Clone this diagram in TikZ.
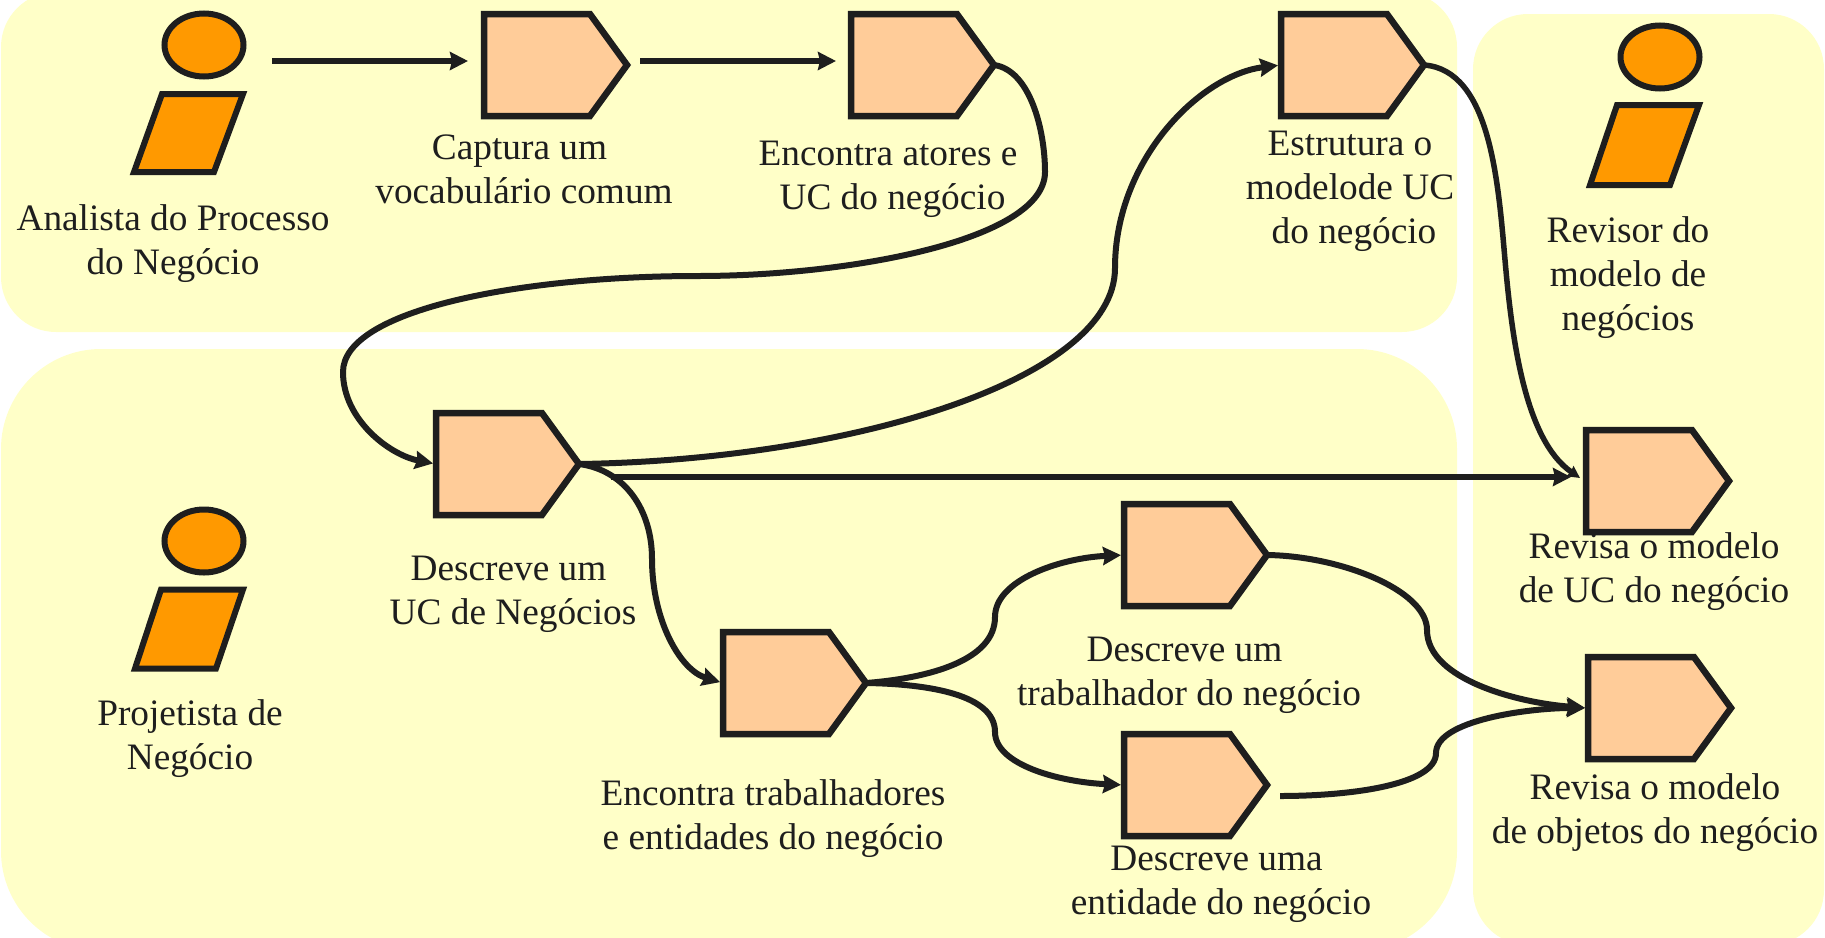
\documentclass[tikz,border=0pt]{standalone}
\usepackage{fontspec}
\setmainfont{Liberation Serif}
\usetikzlibrary{shapes.symbols,shapes.geometric,arrows.meta}
\definecolor{panelc}{HTML}{FFFFC8}
\definecolor{pentc}{HTML}{FFCC99}
\definecolor{actc}{HTML}{FF9900}
\definecolor{inkc}{HTML}{1E1E1E}
\tikzset{
  panel/.style={fill=panelc,draw=none},
  activity/.style={shape=signal,signal to=east,signal pointer angle=108,draw=inkc,fill=pentc,line width=6.5pt,
    minimum width=143pt,minimum height=102pt,inner sep=0pt,outer sep=0pt,anchor=north west},
  head/.style={shape=ellipse,draw=inkc,fill=actc,line width=6pt,minimum width=79pt,minimum height=63pt,inner sep=0pt,outer sep=0pt},
  body/.style={draw=inkc,fill=actc,line width=6pt,miter limit=10},
  lab/.style={align=center,text=inkc,font=\fontsize{37.3}{44}\selectfont,inner sep=0pt},
  flow/.style={draw=inkc,line width=6pt,-{Stealth[length=18pt,width=18pt,inset=2pt]}},
  flows/.style={draw=inkc,line width=5.5pt,-{Stealth[length=12pt,width=12pt,inset=1pt]}},
  flowb/.style={flow,shorten >=3pt}
}
\begin{document}
\begin{tikzpicture}[x=1pt,y=-1pt]
\useasboundingbox (0,0) rectangle (1825,937);
% panels
\path[panel] (1,-8) [rounded corners=55pt] rectangle (1457,332);
\path[panel] (1,349) [rounded corners=100pt] rectangle (1457,951);
\path[panel] (1473,14) [rounded corners=55pt] rectangle (1824,945);
% actors
\node[head] (a1) at (204,45) {};
\path[body] (162,94) -- (243,94) -- (214,172) -- (134,172) -- cycle;
\node[head] (a2) at (204,541) {};
\path[body] (161,589.5) -- (243,589.5) -- (216,668.5) -- (135,668.5) -- cycle;
\node[head] (a3) at (1660,57) {};
\path[body] (1617,105) -- (1699,105) -- (1670,185) -- (1590,185) -- cycle;
% activities
\node[activity] (p1) at (484,14) {};
\node[activity] (p2) at (851,14) {};
\node[activity] (p3) at (1281,14) {};
\node[activity] (p4) at (436,413) {};
\node[activity] (p5) at (723,632) {};
\node[activity] (p6) at (1124,504) {};
\node[activity] (p7) at (1124,734) {};
\node[activity] (p8) at (1586,430) {};
\node[activity] (p9) at (1588,657) {};
% free ends
\coordinate (s1) at (272,61);
\coordinate (t1) at (468,61);
\coordinate (s2) at (640,61);
\coordinate (t2) at (836,61);
\coordinate (s6) at (611,477);
\coordinate (t5) at (1580,478);
\coordinate (t6) at (1571,477);
\coordinate (s11) at (1280,796);
% connectors
\draw[flow] (s1) -- (t1);
\draw[flow] (s2) -- (t2);
\draw[flowb] (p2.east) .. controls (1030,70) and (1045,130) .. (1045,172) .. controls (1045,240) and (850,276) .. (698,276) .. controls (520,276) and (343,310) .. (343,372) .. controls (343,420) and (390,455) .. (p4.west);
\draw[flowb] (p4.east) .. controls (850,460) and (1115,380) .. (1115,268) .. controls (1115,160) and (1200,75) .. (p3.west);
\draw[flows] (p3.east) .. controls (1490,70) and (1498,180) .. (1505,260) .. controls (1512,340) and (1525,440) .. (t5);
\draw[flow] (s6) -- (t6);
\draw[flowb] (p4.east) .. controls (625,470) and (652,510) .. (652,559) .. controls (652,620) and (680,670) .. (p5.west);
\draw[flowb] (p5.east) .. controls (930,678) and (995,660) .. (995,617) .. controls (995,580) and (1060,558) .. (p6.west);
\draw[flowb] (p5.east) .. controls (930,684) and (995,695) .. (995,732) .. controls (995,765) and (1060,782) .. (p7.west);
\draw[flowb] (p6.east) .. controls (1340,556) and (1427,590) .. (1427,630) .. controls (1427,680) and (1520,703) .. (p9.west);
\draw[flowb] (s11) .. controls (1350,796) and (1436,785) .. (1436,753) .. controls (1436,720) and (1530,708) .. (p9.west);
% labels
\node[lab] (l1) at (173,244) {Analista do Processo\\do Negócio};
\node[lab] (l2) at (524,169) {Captura um\kern9pt\relax\\vocabulário comum};
\node[lab] (l3) at (888,179) {Encontra atores e\\\kern9pt\relax UC do negócio};
\node[lab] (l4) at (1350,191) {Estrutura o\\modelode UC\\\kern8pt\relax do negócio};
\node[lab] (l5) at (1628,278) {Revisor do\\modelo de\\negócios};
\node[lab] (l6) at (190,739) {Projetista de\\Negócio};
\node[lab] (l7) at (513,594) {Descreve um\kern9pt\relax\\UC de Negócios};
\node[lab] (l8) at (773,819) {Encontra trabalhadores\\e entidades do negócio};
\node[lab] (l9) at (1189,675) {Descreve um\kern9pt\relax\\trabalhador do negócio};
\node[lab] (l10) at (1221,884) {Descreve uma\kern9pt\relax\\entidade do negócio};
\node[lab] (l11) at (1654,572) {Revisa o modelo\\de UC do negócio};
\node[lab] (l12) at (1655,813) {Revisa o modelo\\de objetos do negócio};
\end{tikzpicture}
\end{document}
